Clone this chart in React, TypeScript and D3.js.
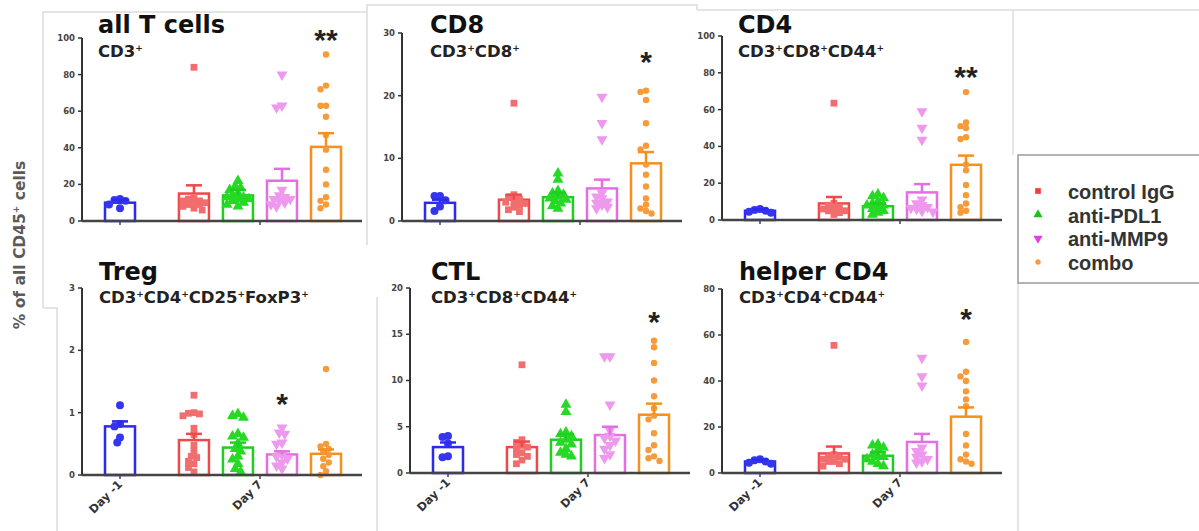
import * as d3 from 'd3'
import { useEffect, useRef } from 'react'

// treatment groups, in plotting order
const groups = ['Day -1', 'control IgG', 'anti-PDL1', 'anti-MMP9', 'combo']
const groupSlots = [0, 1.68, 2.68, 3.68, 4.68]
const dayLabels = ['Day -1', 'Day 7']
const legendGroups = ['control IgG', 'anti-PDL1', 'anti-MMP9', 'combo']

const panelTitles = ['all T cells', 'CD8', 'CD4', 'Treg', 'CTL', 'helper CD4']
const panelMarkers = [
  ['CD3'],
  ['CD3', 'CD8'],
  ['CD3', 'CD8', 'CD44'],
  ['CD3', 'CD4', 'CD25', 'FoxP3'],
  ['CD3', 'CD8', 'CD44'],
  ['CD3', 'CD4', 'CD44'],
]
const panelMax = [100, 30, 100, 3, 20, 80]
const panelTickStep = [20, 10, 20, 1, 5, 20]
const starText = ['**', '*', '**', '*', '*', '*']
const starGroup = [4, 4, 4, 3, 4, 4]
const starValue = [103, 26.5, 81.5, 1.25, 17.1, 70]

// all T cells (CD3+)
const allTMeans = [10, 15, 14, 22, 40.5]
const allTSemTop = [11.5, 19.5, 17, 28.5, 48]
const allTPoints = [
  [12, 11.5, 11, 9, 7],
  [84, 13, 12, 11, 10, 9, 8, 7, 6, 10, 11, 9],
  [22, 19, 18, 17, 15, 14, 13, 12, 11, 10, 9, 8, 12, 13],
  [80, 63, 62, 17, 14, 12, 11, 10, 9, 8, 13, 12],
  [91, 74, 72, 63, 63, 57, 47, 39, 28, 20, 13, 11, 9, 7],
]

// CD8
const cd8Means = [2.9, 3.4, 3.8, 5.2, 9.2]
const cd8SemTop = [3.4, 4.2, 4.5, 6.6, 11]
const cd8Points = [
  [4, 4, 3.3, 1.6, 2.3],
  [18.8, 4.2, 3.8, 3.5, 3.1, 2.8, 2.5, 2.2, 1.8, 1.5, 3.0],
  [7.6, 6.6, 4.8, 4.4, 4.2, 3.9, 3.6, 3.2, 2.8, 2.4, 2.0, 3.4],
  [19.8, 15.6, 13, 4.5, 3.6, 3.1, 2.6, 2.2, 2.0, 3.9, 2.9],
  [20.8, 20.6, 19.3, 15.6, 12, 11.4, 9, 7.4, 5.5, 3.6, 2.6, 2.0, 1.6, 1.2],
]

// CD4
const cd4Means = [5, 9, 7.5, 15, 30]
const cd4SemTop = [5.8, 12.5, 9, 19.5, 35]
const cd4Points = [
  [6, 5.5, 5, 4.5, 4],
  [63.5, 9, 8, 7, 6, 5, 4, 3, 6, 5],
  [14, 13, 12, 10, 9, 8, 7, 6, 5, 4, 3, 8],
  [59, 50, 43.5, 11, 9, 8, 7, 6, 5, 4.5, 6.5],
  [69.5, 53, 51, 50, 45, 44, 30, 27, 19, 13.5, 9, 7, 5, 4],
]

// Treg
const tregMeans = [0.78, 0.56, 0.44, 0.33, 0.34]
const tregSemTop = [0.86, 0.66, 0.52, 0.38, 0.41]
const tregPoints = [
  [1.12, 0.82, 0.78, 0.6, 0.52],
  [1.28, 1.0, 0.98, 0.99, 0.95, 0.75, 0.65, 0.48, 0.38, 0.3, 0.22, 0.12, 0.05, 0.28, 0.18],
  [0.98, 0.95, 0.92, 0.66, 0.62, 0.6, 0.5, 0.38, 0.3, 0.25, 0.18, 0.1, 0.05, 0.42],
  [0.76, 0.68, 0.66, 0.52, 0.5, 0.33, 0.26, 0.2, 0.15, 0.1, 0.3],
  [1.7, 0.5, 0.46, 0.42, 0.38, 0.32, 0.26, 0.2, 0.14, 0.06, 0.0],
]

// CTL
const ctlMeans = [2.8, 2.8, 3.6, 4.1, 6.3]
const ctlSemTop = [3.3, 3.4, 4.2, 5.0, 7.5]
const ctlPoints = [
  [4, 3.9, 3.2, 1.8, 1.7],
  [11.7, 3.6, 3.3, 3.0, 2.6, 2.2, 1.8, 1.4, 1.0, 2.8, 2.0],
  [7.4, 6.6, 4.4, 4.2, 4.0, 3.6, 3.1, 2.6, 2.2, 2.0, 1.8, 3.3],
  [12.6, 12.6, 7.4, 4.6, 4.0, 3.5, 3.0, 2.6, 2.0, 1.6, 3.8],
  [14.3, 13.6, 11.9, 10, 8.3, 7, 6.2, 5.8, 4.3, 3, 2.5, 1.8, 1.6, 1.3],
]

// helper CD4
const helperMeans = [5, 8.5, 7.5, 13.5, 24.5]
const helperSemTop = [5.8, 11.5, 9, 17, 28.5]
const helperPoints = [
  [6, 5.5, 5, 4.5, 4],
  [55.5, 8, 7, 6, 5, 4, 3, 6, 5, 7],
  [12.5, 12, 11, 10, 8, 7, 6, 5, 4, 3, 7],
  [50, 42, 38, 11, 8, 7, 6, 5, 4.5, 9.5],
  [57, 44, 42, 40, 35.5, 32, 29, 17, 12, 8, 6, 5, 4],
]

const panelMeans = [allTMeans, cd8Means, cd4Means, tregMeans, ctlMeans, helperMeans]
const panelSemTop = [allTSemTop, cd8SemTop, cd4SemTop, tregSemTop, ctlSemTop, helperSemTop]
const panelPoints = [allTPoints, cd8Points, cd4Points, tregPoints, ctlPoints, helperPoints]

const strokeColors = ['#2b2bef', '#f04848', '#1fcf1f', '#e46ee4', '#f5901e']
const pointColors = ['#3535f0', '#f26d6d', '#25d925', '#ee98ee', '#f79a3a']
const legendColors = ['#f03c3c', '#1fbf1f', '#e040e0', '#f59a40']
const symbolTypes = [d3.symbolCircle, d3.symbolSquare, d3.symbolTriangle, d3.symbolTriangle, d3.symbolCircle]
const symbolSizes = [50, 46, 52, 52, 32]

const layout = [
  { x: 82, top: 38, zero: 221, titleX: 16, row: 0 },
  { x: 402, top: 33, zero: 221, titleX: 28, row: 0 },
  { x: 722, top: 36, zero: 220, titleX: 16, row: 0 },
  { x: 82, top: 288, zero: 475, titleX: 17, row: 1 },
  { x: 410, top: 288, zero: 473, titleX: 21, row: 1 },
  { x: 722, top: 289, zero: 473, titleX: 17, row: 1 },
]
const titleBaseline = [33, 280]
const subtitleBaseline = [57, 303]
const plotWidth = 280
const barWidth = 30
const FONT = '"DejaVu Sans", sans-serif'

// simple deterministic beeswarm: spread points that would overlap
function swarm(values: number[], yOf: (v: number) => number, step: number, limit: number) {
  const order = d3.range(values.length).sort((a, b) => values[b] - values[a])
  const placed: { dx: number; py: number }[] = []
  const offsets = new Array(values.length).fill(0)
  const candidates = [0]
  for (let k = 1; k * step * 0.5 <= limit; k++) {
    candidates.push(-k * step * 0.5, k * step * 0.5)
  }
  for (const i of order) {
    const py = yOf(values[i])
    let best = 0
    let bestDist = -1
    for (const dx of candidates) {
      const dmin = placed.length ? d3.min(placed, (p) => Math.hypot(p.dx - dx, p.py - py))! : Infinity
      if (dmin >= step) {
        best = dx
        bestDist = Infinity
        break
      }
      if (dmin > bestDist) {
        bestDist = dmin
        best = dx
      }
    }
    offsets[i] = best
    placed.push({ dx: best, py })
  }
  return offsets
}

const App = () => {
  const container = useRef<HTMLDivElement>(null)

  useEffect(() => {
    if (!container.current) return
    d3.select(container.current).select('svg').remove()

    const svg = d3
      .select(container.current)
      .append('svg')
      .attr('width', 1199)
      .attr('height', 531)
      .style('position', 'absolute')
      .style('left', '0px')
      .style('top', '0px')
      .style('background', '#fff')

    // faint frames of the pasted figure panels
    const frames = [
      'M43,308 V12 H367 V245',
      'M367,12 V5 H697 V10',
      'M697,10 H1199',
      'M1013,10 V155',
      'M43,308 H57 V531',
      'M377,297 V531',
      'M1018,283 V531',
    ]
    svg
      .selectAll('path.frame')
      .data(frames)
      .enter()
      .append('path')
      .attr('class', 'frame')
      .attr('d', (d) => d)
      .attr('fill', 'none')
      .attr('stroke', '#dcdcdc')
      .attr('stroke-width', 1.5)

    // y axis title
    svg
      .append('text')
      .attr('transform', 'translate(25,245) rotate(-90)')
      .attr('text-anchor', 'middle')
      .attr('font-family', FONT)
      .attr('font-weight', 'bold')
      .attr('font-size', 15.5)
      .attr('fill', '#5a5a5a')
      .call((t) => {
        t.append('tspan').text('% of all CD45')
        t.append('tspan').attr('font-size', 9).attr('dy', -6).text('+')
        t.append('tspan').attr('dy', 6).text(' cells')
      })

    panelTitles.forEach((title, p) => {
      const L = layout[p]
      const g = svg.append('g').attr('transform', `translate(${L.x},0)`)

      const y = d3.scaleLinear().domain([0, panelMax[p]]).range([L.zero, L.top])
      const x = d3
        .scaleLinear()
        .domain([0, groupSlots[groupSlots.length - 1]])
        .range([38, 244])

      // titles
      g.append('text')
        .attr('x', L.titleX)
        .attr('y', titleBaseline[L.row])
        .attr('font-family', FONT)
        .attr('font-weight', 'bold')
        .attr('font-size', 24)
        .attr('fill', '#111')
        .text(title)

      const sub = g
        .append('text')
        .attr('x', L.titleX)
        .attr('y', subtitleBaseline[L.row])
        .attr('font-family', FONT)
        .attr('font-weight', 'bold')
        .attr('font-size', 16.5)
        .attr('fill', '#222')
      panelMarkers[p].forEach((m, i) => {
        sub.append('tspan').attr('dy', i === 0 ? 0 : 6).text(m)
        sub.append('tspan').attr('font-size', 9).attr('dy', -6).text('+')
      })

      // y axis
      const ticks = d3.range(0, panelMax[p] + panelTickStep[p] / 2, panelTickStep[p])
      const yAxis = g.append('g')
      yAxis
        .append('line')
        .attr('x1', 0)
        .attr('x2', 0)
        .attr('y1', y(panelMax[p]))
        .attr('y2', y(0))
        .attr('stroke', '#333')
        .attr('stroke-width', 2)
      yAxis
        .selectAll('line.tick')
        .data(ticks)
        .enter()
        .append('line')
        .attr('class', 'tick')
        .attr('x1', -4)
        .attr('x2', 0)
        .attr('y1', (d) => y(d))
        .attr('y2', (d) => y(d))
        .attr('stroke', '#333')
        .attr('stroke-width', 1.5)
      yAxis
        .selectAll('text')
        .data(ticks)
        .enter()
        .append('text')
        .attr('x', -7)
        .attr('y', (d) => y(d))
        .attr('dy', '0.35em')
        .attr('text-anchor', 'end')
        .attr('font-family', FONT)
        .attr('font-weight', 'bold')
        .attr('font-size', 8.5)
        .attr('fill', '#444')
        .text((d) => `${d}`)

      // bars
      const means = panelMeans[p]
      const semTop = panelSemTop[p]
      g.selectAll('rect.bar')
        .data(means)
        .enter()
        .append('rect')
        .attr('class', 'bar')
        .attr('x', (_, i) => x(groupSlots[i]) - barWidth / 2)
        .attr('y', (d) => y(d))
        .attr('width', barWidth)
        .attr('height', (d) => y(0) - y(d))
        .attr('fill', '#fff')
        .attr('stroke', (_, i) => strokeColors[i])
        .attr('stroke-width', 2.5)

      // scatter points
      panelPoints[p].forEach((vals, gi) => {
        const offs = swarm(vals, y, 5.5, 12)
        const sym = d3.symbol().type(symbolTypes[gi]).size(symbolSizes[gi])
        g.selectAll(`path.pt${gi}`)
          .data(vals)
          .enter()
          .append('path')
          .attr('class', `pt${gi}`)
          .attr('d', sym)
          .attr(
            'transform',
            (d, i) =>
              `translate(${x(groupSlots[gi]) + offs[i]},${y(d)})${gi === 3 ? ' rotate(180)' : ''}`
          )
          .attr('fill', pointColors[gi])
      })

      // error bars (mean + SEM)
      const err = g
        .selectAll('g.err')
        .data(means)
        .enter()
        .append('g')
        .attr('class', 'err')
        .attr('stroke', (_, i) => strokeColors[i])
        .attr('stroke-width', 2.5)
      err
        .append('line')
        .attr('x1', (_, i) => x(groupSlots[i]))
        .attr('x2', (_, i) => x(groupSlots[i]))
        .attr('y1', (d) => y(d))
        .attr('y2', (_, i) => y(semTop[i]))
      err
        .append('line')
        .attr('x1', (_, i) => x(groupSlots[i]) - 8)
        .attr('x2', (_, i) => x(groupSlots[i]) + 8)
        .attr('y1', (_, i) => y(semTop[i]))
        .attr('y2', (_, i) => y(semTop[i]))

      // x axis
      const dayTicks = [x(groupSlots[0]), (x(groupSlots[1]) + x(groupSlots[4])) / 2]
      g.append('line')
        .attr('x1', 0)
        .attr('x2', plotWidth)
        .attr('y1', y(0))
        .attr('y2', y(0))
        .attr('stroke', '#444')
        .attr('stroke-width', 2.5)
      g.selectAll('line.xtick')
        .data(dayTicks)
        .enter()
        .append('line')
        .attr('class', 'xtick')
        .attr('x1', (d) => d)
        .attr('x2', (d) => d)
        .attr('y1', y(0))
        .attr('y2', y(0) + 4)
        .attr('stroke', '#444')
        .attr('stroke-width', 1.5)

      if (L.row === 1) {
        g.selectAll('text.day')
          .data(dayLabels)
          .enter()
          .append('text')
          .attr('class', 'day')
          .attr('transform', (_, i) => `translate(${dayTicks[i] + 3},${y(0) + 10}) rotate(-45)`)
          .attr('text-anchor', 'end')
          .attr('font-family', FONT)
          .attr('font-weight', 'bold')
          .attr('font-size', 11.5)
          .attr('fill', '#333')
          .text((d) => d)
      }

      // significance stars
      g.append('text')
        .attr('x', x(groupSlots[starGroup[p]]))
        .attr('y', y(starValue[p]) + 17)
        .attr('text-anchor', 'middle')
        .attr('font-family', '"Liberation Sans", Arial, sans-serif')
        .attr('font-weight', 'bold')
        .attr('font-size', 30)
        .attr('fill', '#222')
        .text(starText[p])
    })

    // legend
    const legend = svg.append('g')
    legend
      .append('rect')
      .attr('x', 1018)
      .attr('y', 155)
      .attr('width', 190)
      .attr('height', 128)
      .attr('fill', '#fff')
      .attr('stroke', '#999')
      .attr('stroke-width', 1.5)
    const ly = d3.scalePoint().domain(legendGroups).range([192, 263])
    legendGroups.forEach((name, i) => {
      const gi = groups.indexOf(name)
      legend
        .append('path')
        .attr('d', d3.symbol().type(symbolTypes[gi]).size(symbolSizes[gi] * 0.7)())
        .attr('transform', `translate(1038,${ly(name)! - 1})${gi === 3 ? ' rotate(180)' : ''}`)
        .attr('fill', legendColors[i])
      legend
        .append('text')
        .attr('x', 1068)
        .attr('y', ly(name)!)
        .attr('dy', '0.35em')
        .attr('font-family', '"Liberation Sans", Arial, sans-serif')
        .attr('font-weight', 'bold')
        .attr('font-size', 20)
        .attr('fill', '#333')
        .text(name)
    })
  }, [])

  return <div ref={container} />
}

export default App
